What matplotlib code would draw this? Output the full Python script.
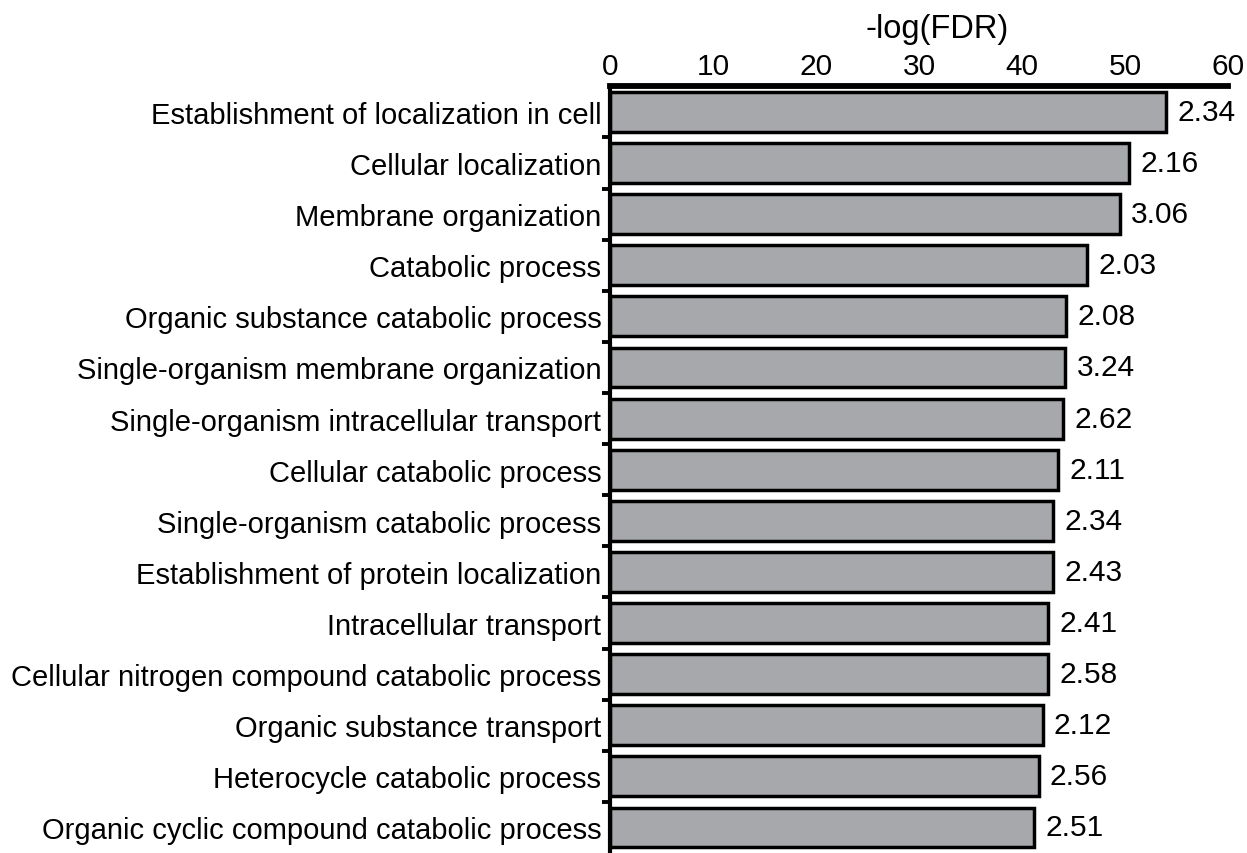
import matplotlib
matplotlib.use("Agg")
import matplotlib.pyplot as plt
import numpy as np

plt.rcParams["font.family"] = ["Liberation Sans", "DejaVu Sans"]

# GO terms, top to bottom
terms = [
    "Establishment of localization in cell",
    "Cellular localization",
    "Membrane organization",
    "Catabolic process",
    "Organic substance catabolic process",
    "Single-organism membrane organization",
    "Single-organism intracellular transport",
    "Cellular catabolic process",
    "Single-organism catabolic process",
    "Establishment of protein localization",
    "Intracellular transport",
    "Cellular nitrogen compound catabolic process",
    "Organic substance transport",
    "Heterocycle catabolic process",
    "Organic cyclic compound catabolic process",
]

# -log(FDR) values
neg_log_fdr = [54.0, 50.4, 49.5, 46.3, 44.3, 44.2, 44.0, 43.5,
               43.0, 43.0, 42.5, 42.5, 42.0, 41.6, 41.2]

# Numbers printed at the end of each bar
bar_labels = ["2.34", "2.16", "3.06", "2.03", "2.08", "3.24", "2.62", "2.11",
              "2.34", "2.43", "2.41", "2.58", "2.12", "2.56", "2.51"]

x_ticks = [0, 10, 20, 30, 40, 50, 60]

figure = plt.figure(figsize=(12.47, 8.54), dpi=100)
axis = figure.add_axes([0.489, 0.0, 0.496, 0.8977])

positions = np.arange(len(terms))

axis.barh(
    positions,
    neg_log_fdr,
    height=0.78,
    color="#a7a8ab",
    edgecolor="black",
    linewidth=2.5,
)

# Value labels to the right of each bar
for position, value, label in zip(positions, neg_log_fdr, bar_labels):
    axis.annotate(
        label,
        xy=(value, position),
        xytext=(8, 0),
        textcoords="offset points",
        ha="left",
        va="center",
        fontsize=21.5,
    )

axis.set_xlim(0, 60)
axis.set_ylim(len(terms) - 0.5, -0.5)

# x axis on top, no tick marks
axis.xaxis.tick_top()
axis.xaxis.set_label_position("top")
axis.set_xticks(x_ticks)
axis.tick_params(axis="x", length=0, labelsize=21.5, pad=4.5)
axis.set_xlabel("-log(FDR)", fontsize=23.5, labelpad=11)
axis.xaxis.label.set_x(0.529)

# Category labels, ticks between the rows
axis.set_yticks(positions)
axis.set_yticklabels(terms, fontsize=21)
axis.set_yticks(positions[:-1] + 0.5, minor=True)
axis.tick_params(axis="y", which="major", length=0, pad=6)
axis.tick_params(axis="y", which="minor", length=6, width=2.8,
                 direction="out", color="black")

axis.spines["right"].set_visible(False)
axis.spines["bottom"].set_visible(False)
axis.spines["top"].set_linewidth(4.2)
axis.spines["left"].set_linewidth(3.0)

figure.savefig("out.png", dpi=100)
